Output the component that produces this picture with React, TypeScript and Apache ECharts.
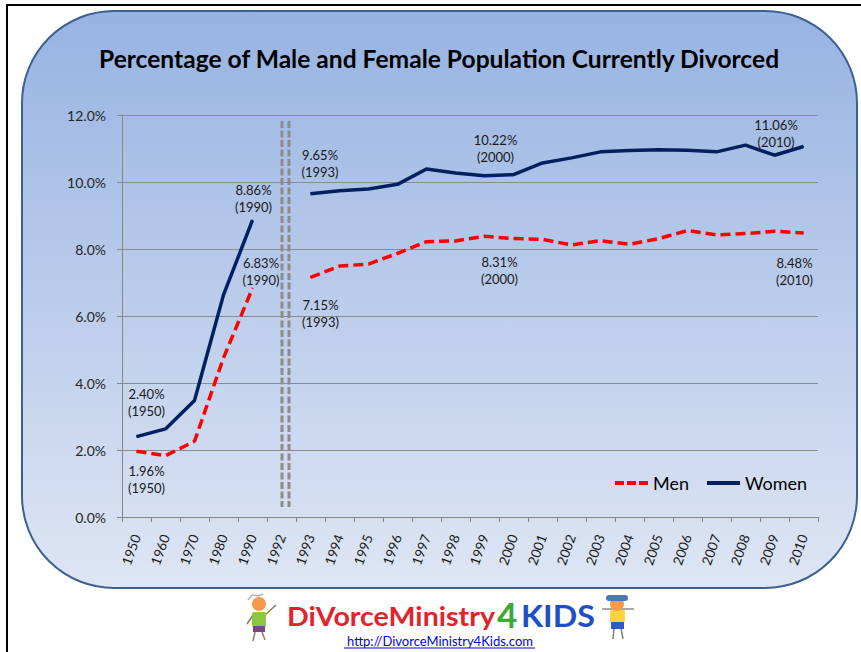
import React, { useEffect, useRef } from "react";
import * as echarts from "echarts";

// ---------- data ----------
const years = [
  "1950", "1960", "1970", "1980", "1990", "1992", "1993", "1994", "1995", "1996", "1997", "1998",
  "1999", "2000", "2001", "2002", "2003", "2004", "2005", "2006", "2007", "2008", "2009", "2010",
];
const menValues: (number | null)[] = [
  1.96, 1.83, 2.26, 4.75, 6.83, null, 7.15, 7.49, 7.55, 7.87, 8.22, 8.24,
  8.38, 8.31, 8.29, 8.12, 8.25, 8.14, 8.31, 8.55, 8.42, 8.46, 8.53, 8.48,
];
const womenValues: (number | null)[] = [
  2.4, 2.63, 3.48, 6.63, 8.86, null, 9.65, 9.74, 9.79, 9.93, 10.39, 10.27,
  10.19, 10.22, 10.57, 10.72, 10.9, 10.94, 10.96, 10.95, 10.9, 11.1, 10.8, 11.06,
];
const annotatedYears = ["1950", "1990", "1993", "2000", "2010"];
const yTicks = [0, 2, 4, 6, 8, 10, 12];
const titleText = "Percentage of Male and Female Population Currently Divorced";
const seriesNames = ["Men", "Women"];
const logoWords = ["DiVorceMinistry", "4", "KIDS"];
const logoUrl = "http://DivorceMinistry4Kids.com";
const dividerYear = "1992";

const FONT = "Lato, 'Open Sans', sans-serif";

function buildData(values: (number | null)[], offsets: Record<string, [number, number]>, color: string) {
  return values.map((v, i) => {
    const yr = years[i];
    if (v === null) return null;
    if (annotatedYears.indexOf(yr) >= 0) {
      return {
        value: v,
        symbol: "circle",
        symbolSize: 1,
        itemStyle: { color },
        label: {
          show: true,
          position: "inside",
          offset: offsets[yr],
          formatter: () => `${v.toFixed(2)}%\n(${yr})`,
          fontFamily: FONT,
          fontSize: 13,
          lineHeight: 17,
          color: "#1a1a1a",
          align: "center",
          verticalAlign: "middle",
          textBorderWidth: 0,
        },
      };
    }
    return { value: v };
  });
}

export default function App() {
  const ref = useRef<HTMLDivElement>(null);

  useEffect(() => {
    if (!ref.current) return;
    const chart = echarts.init(ref.current, undefined, { renderer: "svg" });

    const womenOffsets: Record<string, [number, number]> = {
      "1950": [10, -34], "1990": [1, -22], "1993": [9.5, -30], "2000": [-18, -26], "2010": [-27.5, -13],
    };
    const menOffsets: Record<string, [number, number]> = {
      "1950": [10, 28], "1990": [8.5, -17], "1993": [10, 36], "2000": [-14, 32], "2010": [-9, 39],
    };

    const option: any = {
      animation: false,
      backgroundColor: "#ffffff",
      title: {
        text: titleText,
        left: 99,
        top: 46,
        padding: 0,
        textStyle: { fontFamily: FONT, fontWeight: "bold", fontSize: 24.6, color: "#000000" },
      },
      legend: {
        left: 615,
        top: 474,
        padding: 0,
        itemWidth: 33,
        itemHeight: 4,
        itemGap: 18,
        textStyle: { fontFamily: FONT, fontSize: 18, color: "#000000" },
        data: [
          { name: seriesNames[0], icon: "path://M0,0h9v4h-9zM12,0h9v4h-9zM24,0h9v4h-9z" },
          { name: seriesNames[1], icon: "path://M0,0h33v4h-33z" },
        ],
      },
      grid: { left: 122, right: 43, top: 115, bottom: 135 },
      xAxis: {
        type: "category",
        data: years,
        boundaryGap: true,
        axisLine: { show: true, lineStyle: { color: "#868686", width: 1 } },
        axisTick: { show: true, length: 5, interval: 0, lineStyle: { color: "#868686" } },
        axisLabel: {
          interval: 0,
          rotate: 70,
          margin: 18,
          fontFamily: FONT,
          fontSize: 13.5,
          color: "#1a1a1a",
        },
        splitLine: { show: false },
      },
      yAxis: {
        type: "value",
        min: yTicks[0],
        max: yTicks[yTicks.length - 1],
        interval: 2,
        axisLine: { show: true, lineStyle: { color: "#868686", width: 1 } },
        axisTick: { show: true, length: 5, lineStyle: { color: "#868686" } },
        axisLabel: {
          margin: 16,
          fontFamily: FONT,
          fontSize: 14,
          color: "#262626",
          formatter: (v: number) => v.toFixed(1) + "%",
        },
        splitLine: { show: true, lineStyle: { color: "#8c8c8c", width: 1 } },
      },
      series: [
        {
          name: seriesNames[0],
          type: "line",
          data: buildData(menValues, menOffsets, "#ff0000"),
          symbol: "none",
          showAllSymbol: true,
          connectNulls: false,
          lineStyle: { color: "#ff0000", width: 3.5, type: [10, 5] },
          itemStyle: { color: "#ff0000" },
          z: 3,
        },
        {
          name: seriesNames[1],
          type: "line",
          data: buildData(womenValues, womenOffsets, "#002060"),
          symbol: "none",
          showAllSymbol: true,
          connectNulls: false,
          lineStyle: { color: "#002060", width: 3.5, type: "solid" },
          itemStyle: { color: "#002060" },
          z: 4,
        },
      ],
    };
    chart.setOption(option);

    const cx = chart.convertToPixel({ xAxisIndex: 0 }, dividerYear) as number;
    const yTop = chart.convertToPixel({ yAxisIndex: 0 }, 11.82) as number;
    const yBot = chart.convertToPixel({ yAxisIndex: 0 }, 0.3) as number;

    const divStyle = { stroke: "#8c8c8c", lineWidth: 3, lineDash: [7, 2.5] };

    const kidLeft = {
      type: "group",
      z: 5,
      children: [
        { type: "line", shape: { x1: 255, y1: 632, x2: 253, y2: 641 }, style: { stroke: "#8a7a6a", lineWidth: 1.5 } },
        { type: "line", shape: { x1: 262, y1: 632, x2: 265, y2: 640 }, style: { stroke: "#8a7a6a", lineWidth: 1.5 } },
        { type: "polyline", shape: { points: [[248, 600], [252, 595], [258, 596], [263, 594]] }, style: { stroke: "#b0b0b0", lineWidth: 1.5, fill: "none" } },
        { type: "line", shape: { x1: 265, y1: 615, x2: 276, y2: 605 }, style: { stroke: "#8a7a6a", lineWidth: 1.5 } },
        { type: "line", shape: { x1: 253, y1: 615, x2: 247, y2: 624 }, style: { stroke: "#8a7a6a", lineWidth: 1.5 } },
        { type: "rect", shape: { x: 252, y: 612, width: 14, height: 15, r: 2 }, style: { fill: "#8dc63f" } },
        { type: "rect", shape: { x: 253, y: 626, width: 12, height: 6 }, style: { fill: "#7b3f98" } },
        { type: "circle", shape: { cx: 259, cy: 604, r: 7 }, style: { fill: "#f39a4c" } },
      ],
    };
    const kidRight = {
      type: "group",
      z: 5,
      children: [
        { type: "line", shape: { x1: 602, y1: 609, x2: 634, y2: 609 }, style: { stroke: "#8a8a8a", lineWidth: 1.5 } },
        { type: "line", shape: { x1: 614, y1: 628, x2: 613, y2: 639 }, style: { stroke: "#8a7a6a", lineWidth: 1.5 } },
        { type: "line", shape: { x1: 621, y1: 628, x2: 623, y2: 639 }, style: { stroke: "#8a7a6a", lineWidth: 1.5 } },
        { type: "rect", shape: { x: 610, y: 610, width: 15, height: 13, r: 2 }, style: { fill: "#ffd43b" } },
        { type: "rect", shape: { x: 611, y: 622, width: 13, height: 7 }, style: { fill: "#2f5fb3" } },
        { type: "circle", shape: { cx: 617, cy: 604, r: 7 }, style: { fill: "#f39a4c" } },
        { type: "rect", shape: { x: 606, y: 595, width: 22, height: 6, r: 3 }, style: { fill: "#4a76c0" } },
      ],
    };

    chart.setOption({
      graphic: [
        {
          type: "rect",
          z: -10,
          silent: true,
          shape: { x: 7, y: 5, width: 900, height: 700 },
          style: { fill: "#ffffff", stroke: "#000000", lineWidth: 2 },
        },
        {
          type: "rect",
          z: -9,
          silent: true,
          shape: { x: 22, y: 11, width: 835, height: 577, r: 92 },
          style: {
            fill: new echarts.graphic.LinearGradient(0, 0, 0, 1, [
              { offset: 0, color: "#97b3e2" },
              { offset: 1, color: "#dfe6f4" },
            ]),
            stroke: "#3b6190",
            lineWidth: 2,
          },
        },
        {
          type: "line",
          z: 2,
          silent: true,
          shape: { x1: cx + 0.5, y1: yTop, x2: cx + 0.5, y2: yBot },
          style: divStyle,
        },
        {
          type: "line",
          z: 2,
          silent: true,
          shape: { x1: cx + 7.5, y1: yTop, x2: cx + 7.5, y2: yBot },
          style: divStyle,
        },
        kidLeft,
        kidRight,
        {
          type: "text",
          z: 5,
          x: 287,
          y: 616,
          scaleX: 1.06,
          style: {
            text: logoWords[0],
            fill: "#e0242c",
            font: `bold 27px ${FONT}`,
            verticalAlign: "middle",
            align: "left",
          },
        },
        {
          type: "text",
          z: 5,
          x: 497,
          y: 614,
          style: {
            text: logoWords[1],
            fill: "#3aa935",
            font: `bold 35px ${FONT}`,
            verticalAlign: "middle",
            align: "left",
          },
        },
        {
          type: "text",
          z: 5,
          x: 521,
          y: 615,
          scaleX: 1.04,
          style: {
            text: logoWords[2],
            fill: "#1f4fc6",
            font: `bold 31px ${FONT}`,
            verticalAlign: "middle",
            align: "left",
          },
        },
        {
          type: "text",
          z: 5,
          x: 440,
          y: 641,
          style: {
            text: logoUrl,
            fill: "#0000ee",
            font: `13px ${FONT}`,
            verticalAlign: "middle",
            align: "center",
          },
        },
        {
          type: "line",
          z: 5,
          shape: { x1: 344, y1: 648, x2: 535, y2: 648 },
          style: { stroke: "#0000ee", lineWidth: 1 },
        },
      ],
    });

    return () => chart.dispose();
  }, []);

  return (
    <div
      ref={ref}
      style={{ position: "absolute", left: 0, top: 0, width: 861, height: 652 }}
    />
  );
}
